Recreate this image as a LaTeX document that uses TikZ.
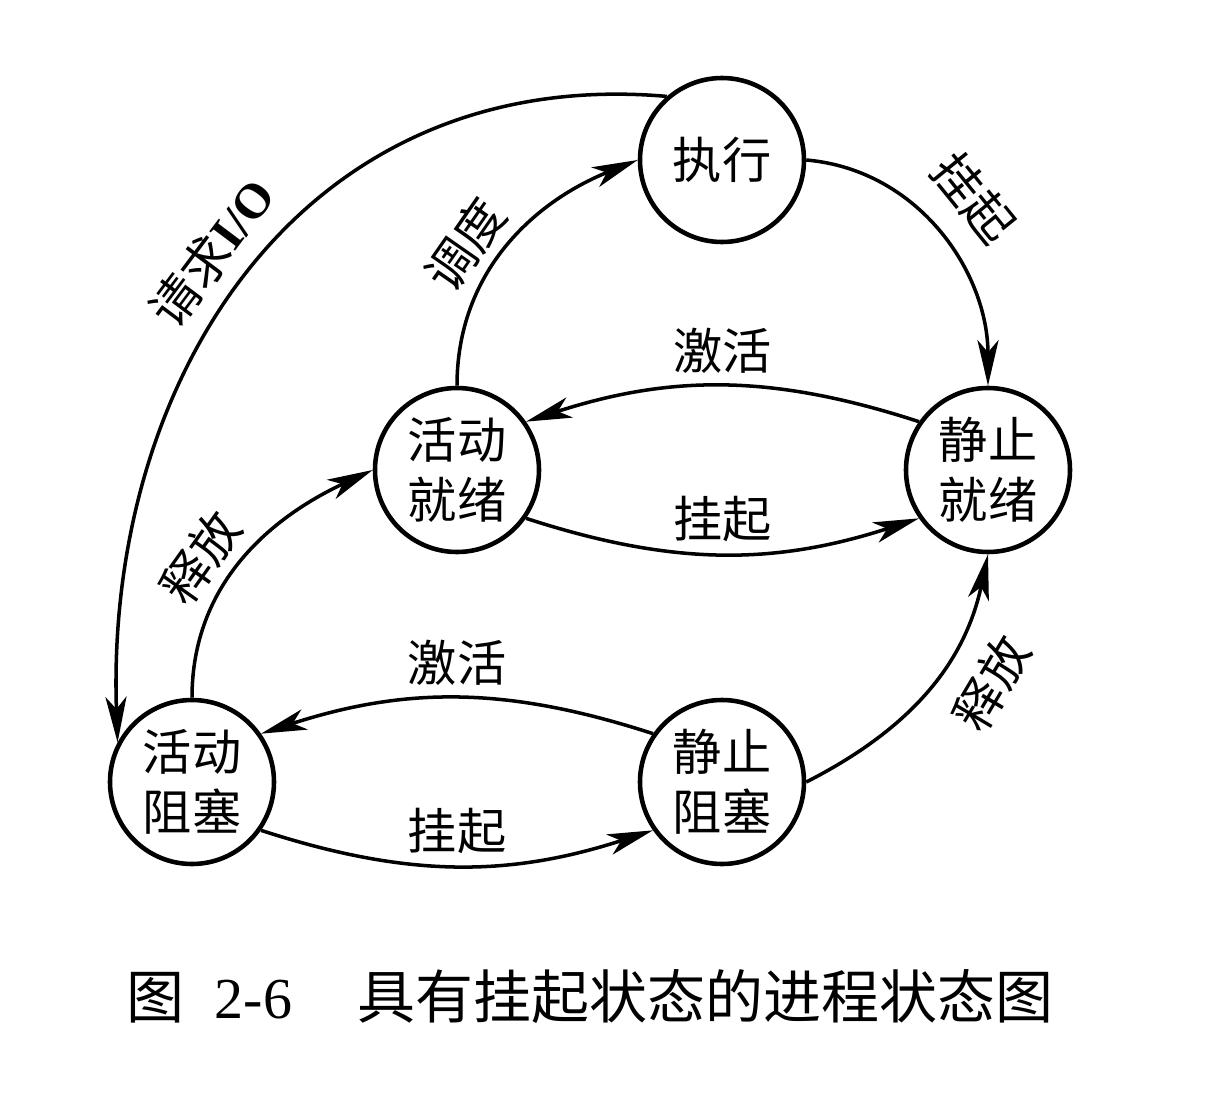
\documentclass[tikz,border=0pt]{standalone}
\usepackage{fontspec}
\setmainfont{Noto Sans CJK SC}
\newfontfamily\latin{Liberation Serif}
\usetikzlibrary{arrows.meta}

\begin{document}
\begin{tikzpicture}
        \useasboundingbox (0,0) rectangle (12.06,11.16);
        \begin{scope}[every node/.style={draw, circle, line width=1.3pt, minimum size=1.64cm, inner sep=0pt, align=center, font=\fontsize{14pt}{17pt}\selectfont}]
                \node (E) at (7.22,9.56) {执行};
                \node (AR) at (4.57,6.46) {活动\\就绪};
                \node (SR) at (9.88,6.46) {静止\\就绪};
                \node (AB) at (1.92,3.34) {活动\\阻塞};
                \node (SB) at (7.22,3.34) {静止\\阻塞};
        \end{scope}
        \begin{scope}[every node/.style={inner sep=3pt, font=\fontsize{14pt}{17pt}\selectfont}, every path/.style={line width=1pt, -{Stealth[length=13pt,width=6pt,inset=3.5pt]}}]
                \path (E.east) edge [out=-5, in=90] node [pos=.48, sloped, above, yshift=4pt] {挂起} (SR.north);
                \path (AR.north) edge [out=90, in=202] node [pos=.42, sloped, above] {调度} (E.west);
                \path (E.131) edge [out=175, in=92, looseness=1.1] node [pos=.51, sloped, above, yshift=2pt] {请求{\latin\bfseries I/O}} (AB.152);
                \path (SR.145) edge [bend right=18] node [above] {激活} (AR.35);
                \path (AR.-35) edge [bend right=18] node [above] {挂起} (SR.-145);
                \path (AB.north) edge [out=90, in=205] node [pos=.42, sloped, above] {释放} (AR.west);
                \path (SB.145) edge [bend right=18] node [above] {激活} (AB.35);
                \path (AB.-35) edge [bend right=18] node [above] {挂起} (SB.-145);
                \path (SB.east) edge [out=27, in=-102] node [pos=.64, sloped, below, yshift=-4pt] {释放} (SR.south);
        \end{scope}
        \node (cap) at (5.90,1.19) {\fontsize{16.5pt}{20pt}\selectfont 图\hspace{0.3cm}{\latin 2-6}\hspace{0.65cm}具有挂起状态的进程状态图};
\end{tikzpicture}
\end{document}
